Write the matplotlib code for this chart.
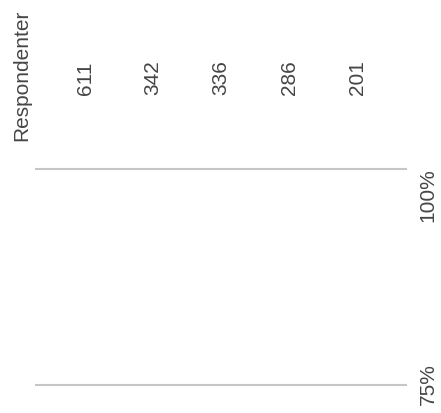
import matplotlib
matplotlib.use("Agg")
import matplotlib.pyplot as plt

categories = ["A", "B", "C", "D", "E"]
respondents = [611, 342, 336, 286, 201]
grid_values = [1.00, 0.75]
grid_labels = ["100%", "75%"]
header = "Respondenter"

plt.rcParams['font.family'] = ['Liberation Sans', 'DejaVu Sans']
txt_color = "#454545"
line_color = "#c6c6c6"

fig = plt.figure(figsize=(4.41, 4.14), dpi=100)
ax = fig.add_axes([0, 0, 1, 1])
ax.set_xlim(-1.25, 5.235)
ax.set_ylim(0.7176, 1.1968)
ax.axis("off")

n = len(categories)
xs = list(range(n))
for v in grid_values:
    ax.hlines(v, -0.735, n - 1 + 0.735, color=line_color, lw=1.5)

for x, r in zip(xs, respondents):
    ax.text(x, 1.087, str(r), rotation=90, ha="center", va="bottom",
            fontsize=15, color=txt_color)

ax.text(-0.926, 1.034, header, rotation=90, ha="center", va="bottom",
        fontsize=15, color=txt_color)

lab_x = -1.25 + 428 / 68
ax.text(lab_x, grid_values[0] + 0.002, grid_labels[0], rotation=90,
        ha="center", va="top", fontsize=15, color=txt_color)
ax.text(lab_x, grid_values[1] + 0.002, grid_labels[1], rotation=90,
        ha="center", va="center", fontsize=15, color=txt_color)

fig.savefig("out.png", dpi=100)
